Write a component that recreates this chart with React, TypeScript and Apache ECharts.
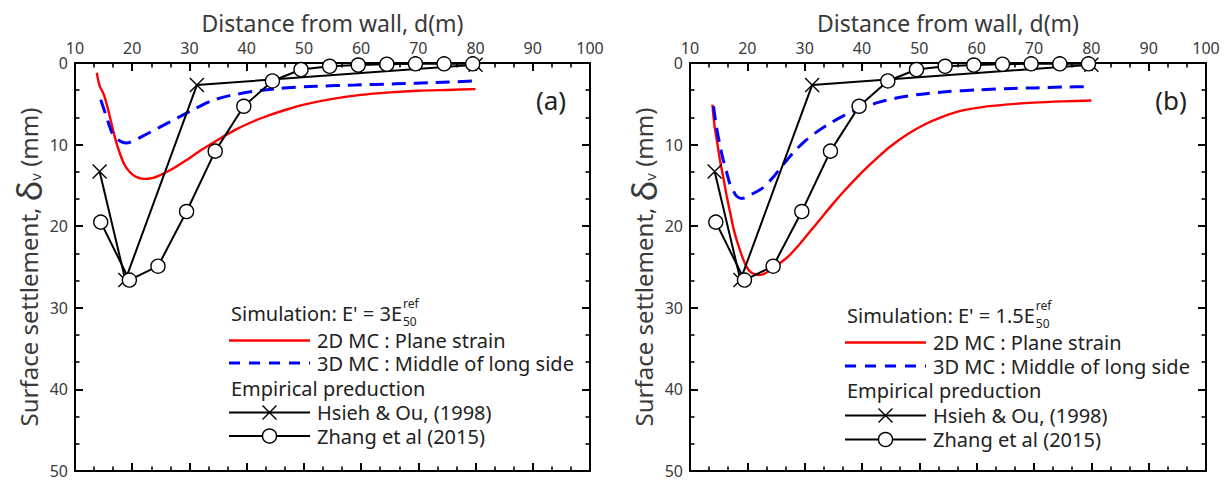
import React, { useEffect, useRef } from 'react';
import * as echarts from 'echarts';

const FONT = '"Noto Sans", "Open Sans", sans-serif';

// ---------- axis ticks ----------
const xTicksMin = 10;
const xTicksMax = 100;
const xTickStep = 10;
const yTicksMin = 0;
const yTicksMax = 50;
const yTickStep = 10;

// ---------- empirical predictions (same in both panels) ----------
const hsiehDist = [14.3, 18.8, 31.3, 80];
const hsiehSettle = [13.3, 26.6, 2.7, 0.2];

const zhangDist = [14.5, 19.5, 24.5, 29.5, 34.5, 39.5, 44.5, 49.5, 54.5, 59.5, 64.5, 69.5, 74.5, 79.5];
const zhangSettle = [19.5, 26.6, 24.9, 18.2, 10.8, 5.3, 2.2, 0.8, 0.4, 0.25, 0.15, 0.1, 0.1, 0.1];

// ---------- panel (a): E' = 3E50ref ----------
const a2dDist = [13.8, 14.3, 15, 15.6, 16.2, 17, 17.8, 18.6, 19.5, 20.5, 22, 23.5, 25, 27, 29.5, 32, 35, 38, 41, 44, 47, 50, 55, 60, 65, 70, 75, 80];
const a2dSettle = [1.2, 2.8, 3.8, 5.2, 6.9, 9.2, 11.0, 12.4, 13.3, 13.9, 14.2, 14.1, 13.7, 13.0, 11.9, 10.7, 9.4, 8.2, 7.2, 6.4, 5.7, 5.1, 4.4, 3.9, 3.6, 3.4, 3.3, 3.2];

const a3dDist = [14.5, 15.5, 16.5, 17.5, 19, 22, 25, 28, 31, 34, 37, 41, 46, 52, 59, 66, 73, 80];
const a3dSettle = [4.5, 6.6, 8.6, 9.4, 9.8, 8.9, 7.8, 6.7, 5.6, 4.6, 4.0, 3.5, 3.1, 2.85, 2.7, 2.55, 2.4, 2.2];

// ---------- panel (b): E' = 1.5E50ref ----------
const b2dDist = [13.9, 14.3, 14.8, 15.2, 15.8, 16.4, 17, 17.5, 18.1, 18.7, 19.3, 19.8, 20.4, 21, 22, 23, 24, 25, 27, 29, 31, 33, 35, 37, 39, 41, 43, 45, 48, 51, 54, 57, 61, 65, 70, 75, 80];
const b2dSettle = [5.1, 7.8, 10, 11.8, 14, 16.3, 18.3, 20, 21.6, 22.9, 24.1, 24.9, 25.5, 25.8, 26, 25.8, 25.4, 24.9, 23.8, 22.3, 20.6, 18.9, 17.2, 15.6, 14.1, 12.7, 11.4, 10.2, 8.7, 7.5, 6.6, 5.9, 5.4, 5.1, 4.85, 4.7, 4.6];

const b3dDist = [14.1, 14.6, 15.2, 15.8, 16.4, 16.9, 17.5, 18.1, 19, 19.8, 21, 22.7, 24.5, 26.2, 28, 30, 32, 34.4, 37, 40, 43, 46, 50, 55, 60, 65, 70, 75, 80];
const b3dSettle = [5.3, 7.8, 10, 11.9, 13.4, 14.7, 15.6, 16.3, 16.6, 16.5, 16, 15.3, 14, 12.5, 11, 9.6, 8.5, 7.4, 6.4, 5.5, 4.8, 4.3, 3.85, 3.5, 3.3, 3.15, 3.05, 2.95, 2.9];

// ---------- texts ----------
const xTitle = 'Distance from wall, d(m)';
const panelTags = ['(a)', '(b)'];
const simHeadings = ["Simulation: E' = 3E", "Simulation: E' = 1.5E"];
const name2D = '2D MC : Plane strain';
const name3D = '3D MC : Middle of long side';
const empHeading = 'Empirical preduction';
const nameHsieh = 'Hsieh & Ou, (1998)';
const nameZhang = 'Zhang et al (2015)';

const pairs = (d: number[], s: number[]) => d.map((x, i) => [x, s[i]]);

const measure = (text: string, size: number) => {
  const c = document.createElement('canvas').getContext('2d');
  if (!c) return text.length * size * 0.5;
  c.font = `${size}px ${FONT}`;
  return c.measureText(text).width;
};

const AX = '#000';
const LBL = '#3a3a3a';
const LEG = 20;

function commonAxis(gi: number) {
  return {
    gridIndex: gi,
    type: 'value',
    splitLine: { show: false },
    axisLine: { show: true, onZero: false, lineStyle: { color: AX, width: 2 } },
    axisTick: { show: true, inside: true, length: 8, lineStyle: { color: AX, width: 2 } },
    minorTick: { show: true, splitNumber: 3, length: 4.5, lineStyle: { color: AX, width: 1.6 } },
  };
}

function xAxesFor(gi: number) {
  const common = { ...commonAxis(gi), min: xTicksMin, max: xTicksMax, interval: xTickStep };
  return [
    {
      ...common,
      position: 'top',
      axisLabel: { show: true, margin: 7, fontSize: 16, lineHeight: 16, color: LBL, fontFamily: FONT },
      name: xTitle,
      nameLocation: 'middle',
      nameGap: 29,
      nameTextStyle: { fontSize: 23, color: LBL, fontFamily: FONT },
    },
    { ...common, position: 'bottom', axisLabel: { show: false } },
  ];
}

function yAxesFor(gi: number) {
  const common = { ...commonAxis(gi), inverse: true, min: yTicksMin, max: yTicksMax, interval: yTickStep };
  return [
    {
      ...common,
      position: 'left',
      axisLabel: { show: true, margin: 7, fontSize: 16, lineHeight: 14, color: LBL, fontFamily: FONT },
      name: '{t|Surface settlement, }{d|δ}{s|v}{t| (mm)}',
      nameLocation: 'middle',
      nameGap: 30,
      nameTextStyle: {
        color: LBL,
        fontFamily: FONT,
        rich: {
          t: { fontSize: 24, color: LBL, fontFamily: FONT, lineHeight: 32, verticalAlign: 'middle' },
          d: { fontSize: 35, color: LBL, fontFamily: FONT, lineHeight: 32, verticalAlign: 'middle' },
          s: { fontSize: 15, color: LBL, fontFamily: FONT, verticalAlign: 'bottom', padding: [0, 0, 2, 0] },
        },
      },
    },
    { ...common, position: 'right', axisLabel: { show: false } },
  ];
}

function seriesFor(gi: number, d2: number[], s2: number[], d3: number[], s3: number[]) {
  const xi = gi * 2;
  const yi = gi * 2;
  return [
    {
      name: name2D, type: 'line', xAxisIndex: xi, yAxisIndex: yi, data: pairs(d2, s2),
      showSymbol: false, symbol: 'none', smooth: 0.25, silent: true,
      lineStyle: { color: '#ff0000', width: 2.4 }, itemStyle: { color: '#ff0000' }, z: 2,
    },
    {
      name: name3D, type: 'line', xAxisIndex: xi, yAxisIndex: yi, data: pairs(d3, s3),
      showSymbol: false, symbol: 'none', smooth: 0.25, silent: true,
      lineStyle: { color: '#0000ff', width: 3, type: [14, 8] }, itemStyle: { color: '#0000ff' }, z: 3,
    },
    {
      name: nameHsieh, type: 'line', xAxisIndex: xi, yAxisIndex: yi, data: pairs(hsiehDist, hsiehSettle),
      symbol: 'path://M0,0L10,10M10,0L0,10', symbolSize: 14, showSymbol: true, silent: true,
      lineStyle: { color: '#000', width: 2 }, itemStyle: { color: '#000', borderColor: '#000', borderWidth: 1.4 }, z: 4,
    },
    {
      name: nameZhang, type: 'line', xAxisIndex: xi, yAxisIndex: yi, data: pairs(zhangDist, zhangSettle),
      symbol: 'circle', symbolSize: 14, showSymbol: true, silent: true,
      lineStyle: { color: '#000', width: 2 }, itemStyle: { color: '#fff', borderColor: '#000', borderWidth: 1.4 }, z: 5,
    },
  ];
}

function legendFor(x0: number, rows: number[], heading: string) {
  const lx1 = x0 - 2;
  const lx2 = x0 + 79;
  const tx = x0 + 86;
  const mx = x0 + 38.5;
  const TXT = '#222';
  const headW = measure(heading, LEG);
  const txt = (x: number, y: number, text: string, size = LEG) => ({
    type: 'text', x, y, silent: true,
    style: { text, fontSize: size, lineHeight: size, fontFamily: FONT, fill: TXT, align: 'left', verticalAlign: 'middle' },
  });
  return [
    txt(x0, rows[0], heading),
    txt(x0 + headW + 1, rows[0] - 10, 'ref', 12),
    txt(x0 + headW + 1, rows[0] + 8, '50', 12),
    { type: 'line', silent: true, shape: { x1: lx1, y1: rows[1], x2: lx2, y2: rows[1] }, style: { stroke: '#ff0000', lineWidth: 2.4 } },
    txt(tx, rows[1], name2D),
    { type: 'line', silent: true, shape: { x1: lx1, y1: rows[2], x2: lx2, y2: rows[2] }, style: { stroke: '#0000ff', lineWidth: 3, lineDash: [11, 9] } },
    txt(tx, rows[2], name3D),
    txt(x0, rows[3], empHeading),
    { type: 'line', silent: true, shape: { x1: lx1, y1: rows[4], x2: lx2, y2: rows[4] }, style: { stroke: '#000', lineWidth: 2 } },
    { type: 'line', silent: true, shape: { x1: mx - 7, y1: rows[4] - 7, x2: mx + 7, y2: rows[4] + 7 }, style: { stroke: '#000', lineWidth: 1.4 } },
    { type: 'line', silent: true, shape: { x1: mx - 7, y1: rows[4] + 7, x2: mx + 7, y2: rows[4] - 7 }, style: { stroke: '#000', lineWidth: 1.4 } },
    txt(tx, rows[4], nameHsieh),
    { type: 'line', silent: true, shape: { x1: lx1, y1: rows[5], x2: lx2, y2: rows[5] }, style: { stroke: '#000', lineWidth: 2 } },
    { type: 'circle', silent: true, shape: { cx: mx, cy: rows[5], r: 7 }, style: { fill: '#fff', stroke: '#000', lineWidth: 1.4 } },
    txt(tx, rows[5], nameZhang),
  ];
}

export default function App() {
  const ref = useRef<HTMLDivElement>(null);

  useEffect(() => {
    if (!ref.current) return;
    const chart = echarts.init(ref.current, null, { renderer: 'svg' });
    const option: any = {
      animation: false,
      backgroundColor: '#fff',
      grid: [
        { left: 75, top: 63, width: 515, height: 408 },
        { left: 690, top: 63, width: 516, height: 408 },
      ],
      xAxis: [...xAxesFor(0), ...xAxesFor(1)],
      yAxis: [...yAxesFor(0), ...yAxesFor(1)],
      series: [
        ...seriesFor(0, a2dDist, a2dSettle, a3dDist, a3dSettle),
        ...seriesFor(1, b2dDist, b2dSettle, b3dDist, b3dSettle),
      ],
      graphic: [
        ...legendFor(231, [313, 340.5, 363, 388, 412.5, 436], simHeadings[0]),
        ...legendFor(847, [315, 342.5, 366, 390, 415.5, 439.5], simHeadings[1]),
        {
          type: 'text', x: 551, y: 100, silent: true,
          style: { text: panelTags[0], fontSize: 26, fontFamily: FONT, fill: '#222', align: 'center', verticalAlign: 'middle' },
        },
        {
          type: 'text', x: 1171, y: 100, silent: true,
          style: { text: panelTags[1], fontSize: 26, fontFamily: FONT, fill: '#222', align: 'center', verticalAlign: 'middle' },
        },
      ],
    };
    chart.setOption(option);
    return () => chart.dispose();
  }, []);

  return (
    <div
      ref={ref}
      style={{ position: 'fixed', left: 0, top: 0, width: 1225, height: 480, background: '#fff' }}
    />
  );
}
